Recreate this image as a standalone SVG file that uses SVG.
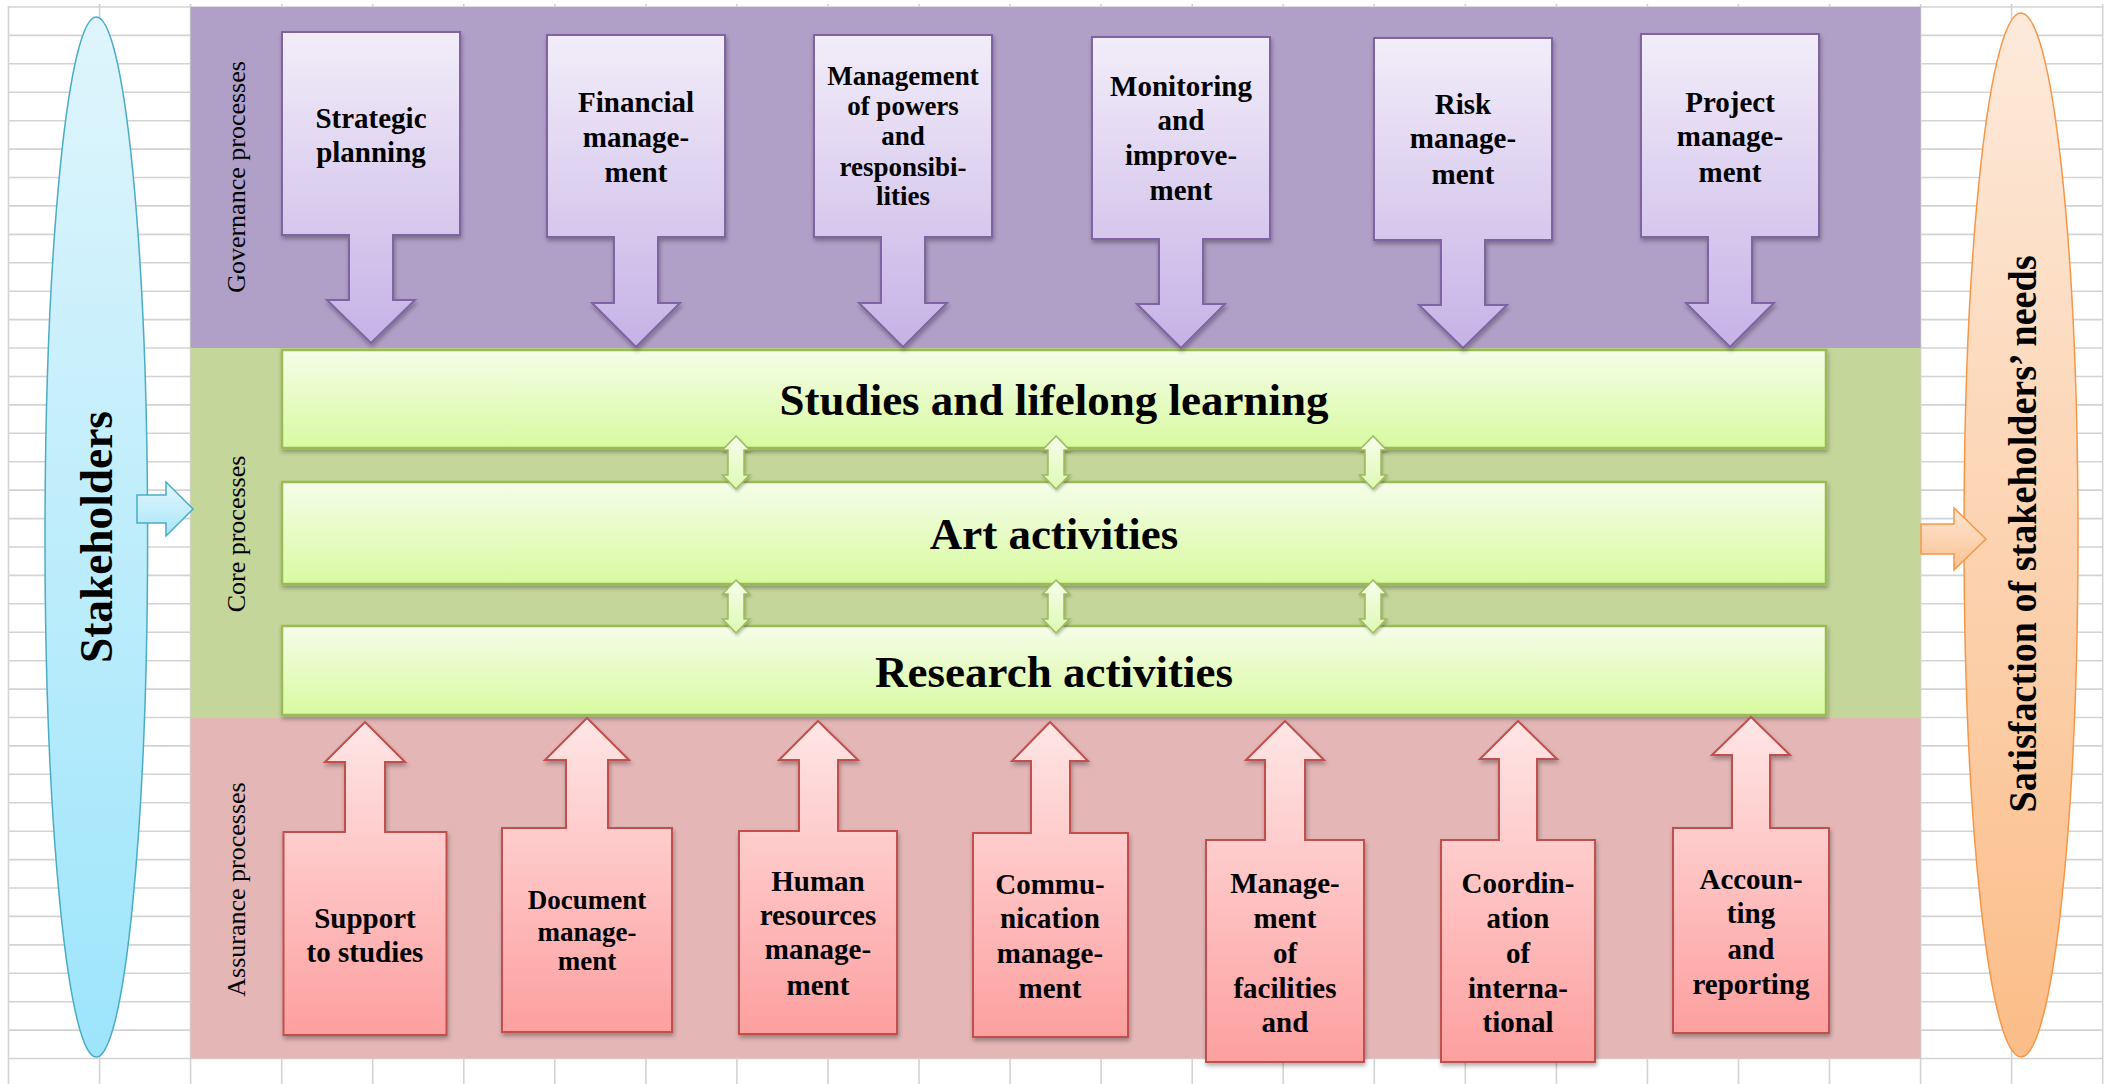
<svg xmlns="http://www.w3.org/2000/svg" width="2111" height="1084" viewBox="0 0 2111 1084">
  <defs>
    <style>
      text { font-family: "Liberation Serif", "Times New Roman", serif; fill: #000; }
      .t29 { font-size: 29px; font-weight: bold; text-anchor: middle; }
      .t27 { font-size: 27px; font-weight: bold; text-anchor: middle; }
      .core { font-size: 45px; font-weight: bold; text-anchor: middle; }
      .lbl { font-size: 26px; text-anchor: middle; }
      .gov { fill: url(#gGov); stroke: #8064A2; stroke-width: 2; filter: url(#sh); }
      .ass { fill: url(#gAss); stroke: #C0504D; stroke-width: 2; filter: url(#sh); }
      .corebox { fill: url(#gCore); stroke: #9BBB59; stroke-width: 2.5; filter: url(#sh); }
      .dbl { fill: url(#gDbl); stroke: #9BBB59; stroke-width: 1.5; filter: url(#sh2); }
      .grid { fill: none; stroke: #d3d3d3; stroke-width: 1.6; }
    </style>
    <linearGradient id="gGov" x1="0" y1="0" x2="0" y2="1">
      <stop offset="0" stop-color="#F2EDF9"/>
      <stop offset="1" stop-color="#C6B2E6"/>
    </linearGradient>
    <linearGradient id="gAss" x1="0" y1="0" x2="0" y2="1">
      <stop offset="0" stop-color="#FFE6E6"/>
      <stop offset="1" stop-color="#FD9F9F"/>
    </linearGradient>
    <linearGradient id="gCore" x1="0" y1="0" x2="0" y2="1">
      <stop offset="0" stop-color="#F5FDE9"/>
      <stop offset="1" stop-color="#D8FAA0"/>
    </linearGradient>
    <linearGradient id="gDbl" x1="0" y1="0" x2="0" y2="1">
      <stop offset="0" stop-color="#F7FEEC"/>
      <stop offset="1" stop-color="#DDF9B2"/>
    </linearGradient>
    <linearGradient id="gBlue" x1="0" y1="0" x2="0" y2="1">
      <stop offset="0" stop-color="#DFF5FC"/>
      <stop offset="1" stop-color="#9DE5FB"/>
    </linearGradient>
    <linearGradient id="gOrange" x1="0" y1="0" x2="0" y2="1">
      <stop offset="0" stop-color="#FDEADB"/>
      <stop offset="1" stop-color="#FBBD88"/>
    </linearGradient>
    <linearGradient id="gBlueArrow" x1="0" y1="0" x2="0" y2="1">
      <stop offset="0" stop-color="#E3F7FD"/>
      <stop offset="1" stop-color="#A8E6F8"/>
    </linearGradient>
    <linearGradient id="gOrangeArrow" x1="0" y1="0" x2="0" y2="1">
      <stop offset="0" stop-color="#FDE6D3"/>
      <stop offset="1" stop-color="#FBC292"/>
    </linearGradient>
    <filter id="sh" x="-10%" y="-10%" width="125%" height="130%">
      <feDropShadow dx="1" dy="3" stdDeviation="2" flood-color="#000" flood-opacity="0.3"/>
    </filter>
    <filter id="sh2" x="-30%" y="-20%" width="160%" height="150%">
      <feDropShadow dx="1" dy="2" stdDeviation="1.5" flood-color="#000" flood-opacity="0.25"/>
    </filter>
  </defs>

  <rect width="2111" height="1084" fill="#fff"/>

  <!-- worksheet grid -->
  <g id="grid">
    <path class="grid" d="M8.5,7H2102.7M8.5,35.4H2102.7M8.5,63.8H2102.7M8.5,92.3H2102.7M8.5,120.7H2102.7M8.5,149.1H2102.7M8.5,177.5H2102.7M8.5,205.9H2102.7M8.5,234.4H2102.7M8.5,262.8H2102.7M8.5,291.2H2102.7M8.5,319.6H2102.7M8.5,348H2102.7M8.5,376.5H2102.7M8.5,404.9H2102.7M8.5,433.3H2102.7M8.5,461.7H2102.7M8.5,490.1H2102.7M8.5,518.6H2102.7M8.5,547H2102.7M8.5,575.4H2102.7M8.5,603.8H2102.7M8.5,632.2H2102.7M8.5,660.7H2102.7M8.5,689.1H2102.7M8.5,717.5H2102.7M8.5,745.9H2102.7M8.5,774.3H2102.7M8.5,802.8H2102.7M8.5,831.2H2102.7M8.5,859.6H2102.7M8.5,888H2102.7M8.5,916.4H2102.7M8.5,944.9H2102.7M8.5,973.3H2102.7M8.5,1001.7H2102.7M8.5,1030.1H2102.7M8.5,1058.5H2102.7"/>
    <path class="grid" d="M8.5,6V1084M99.6,4V1084M190.6,4V1084M281.7,4V1084M372.7,4V1084M463.8,4V1084M554.8,4V1084M645.9,4V1084M736.9,4V1084M828,4V1084M919,4V1084M1010.1,4V1084M1101.1,4V1084M1192.2,4V1084M1283.2,4V1084M1374.3,4V1084M1465.3,4V1084M1556.4,4V1084M1647.4,4V1084M1738.5,4V1084M1829.5,4V1084M1920.6,4V1084M2011.6,4V1084M2102.7,4V1084"/>
  </g>

  <!-- process bands -->
  <g id="bands">
    <rect id="band-governance" x="190.6" y="7" width="1730" height="341" fill="#B09FC7"/>
    <rect id="band-core" x="190.6" y="348" width="1730" height="369.5" fill="#C4D69A"/>
    <rect id="band-assurance" x="190.6" y="717.5" width="1730" height="341" fill="#E4B6B6"/>
    <text class="lbl" transform="translate(245,177) rotate(-90)">Governance processes</text>
    <text class="lbl" transform="translate(245,534) rotate(-90)">Core processes</text>
    <text class="lbl" transform="translate(245,889.5) rotate(-90)">Assurance processes</text>
  </g>

  <!-- input and output ellipses -->
  <g id="stakeholders">
    <ellipse cx="96.3" cy="537" rx="51.3" ry="520" fill="url(#gBlue)" stroke="#4BACC6" stroke-width="1.5"/>
    <text transform="translate(112,537) rotate(-90)" font-size="46" font-weight="bold" text-anchor="middle" textLength="252" lengthAdjust="spacingAndGlyphs">Stakeholders</text>
  </g>
  <g id="satisfaction">
    <ellipse cx="2021" cy="535" rx="57" ry="522" fill="url(#gOrange)" stroke="#F79646" stroke-width="1.5"/>
    <text transform="translate(2036,534) rotate(-90)" font-size="40" font-weight="bold" text-anchor="middle" textLength="557" lengthAdjust="spacingAndGlyphs">Satisfaction of stakeholders’ needs</text>
  </g>

  <!-- core processes -->
  <g id="core-studies">
    <rect class="corebox" x="282" y="350" width="1544" height="98"/>
    <text class="core" x="1054" y="415">Studies and lifelong learning</text>
  </g>
  <g id="core-art">
    <rect class="corebox" x="282" y="482" width="1544" height="102"/>
    <text class="core" x="1054" y="549">Art activities</text>
  </g>
  <g id="core-research">
    <rect class="corebox" x="282" y="626" width="1544" height="89"/>
    <text class="core" x="1054" y="687">Research activities</text>
  </g>

  <!-- governance processes (down-arrow callouts) -->
  <g id="gov-strategic">
    <path class="gov" d="M282,32H460V235H393V300H415L371,343L327,300H349V235H282Z"/>
    <text class="t29" x="371"><tspan x="371" y="128">Strategic</tspan><tspan x="371" y="162">planning</tspan></text>
  </g>
  <g id="gov-financial">
    <path class="gov" d="M547,35H725V237H658V303H680L636,347L592,303H614V237H547Z"/>
    <text class="t29"><tspan x="636" y="112">Financial</tspan><tspan x="636" y="147">manage-</tspan><tspan x="636" y="182">ment</tspan></text>
  </g>
  <g id="gov-powers">
    <path class="gov" d="M814,35H992V237H925V303H947L903,347L859,303H881V237H814Z"/>
    <text class="t27"><tspan x="903" y="85">Management</tspan><tspan x="903" y="115">of powers</tspan><tspan x="903" y="145">and</tspan><tspan x="903" y="176">responsibi-</tspan><tspan x="903" y="205">lities</tspan></text>
  </g>
  <g id="gov-monitoring">
    <path class="gov" d="M1092,37H1270V239H1203V304H1225L1181,348L1137,304H1159V239H1092Z"/>
    <text class="t29"><tspan x="1181" y="96">Monitoring</tspan><tspan x="1181" y="130">and</tspan><tspan x="1181" y="165">improve-</tspan><tspan x="1181" y="200">ment</tspan></text>
  </g>
  <g id="gov-risk">
    <path class="gov" d="M1374,38H1552V240H1485V305H1507L1463,348L1419,305H1441V240H1374Z"/>
    <text class="t29"><tspan x="1463" y="114">Risk</tspan><tspan x="1463" y="148">manage-</tspan><tspan x="1463" y="184">ment</tspan></text>
  </g>
  <g id="gov-project">
    <path class="gov" d="M1641,34H1819V237H1752V303H1774L1730,347L1686,303H1708V237H1641Z"/>
    <text class="t29"><tspan x="1730" y="112">Project</tspan><tspan x="1730" y="146">manage-</tspan><tspan x="1730" y="182">ment</tspan></text>
  </g>

  <!-- assurance processes (up-arrow callouts) -->
  <g id="ass-support">
    <path class="ass" d="M365,722L405,762H385V832H446.5V1035H283.5V832H345V762H325Z"/>
    <text class="t29"><tspan x="365" y="928">Support</tspan><tspan x="365" y="962">to studies</tspan></text>
  </g>
  <g id="ass-document">
    <path class="ass" d="M587,718L629,760H608V828H672V1032H502V828H566V760H545Z"/>
    <text class="t27"><tspan x="587" y="909">Document</tspan><tspan x="587" y="941">manage-</tspan><tspan x="587" y="970">ment</tspan></text>
  </g>
  <g id="ass-human">
    <path class="ass" d="M818,721L858,760H838V831H897V1034H739V831H799V760H779Z"/>
    <text class="t29"><tspan x="818" y="891">Human</tspan><tspan x="818" y="925">resources</tspan><tspan x="818" y="959">manage-</tspan><tspan x="818" y="995">ment</tspan></text>
  </g>
  <g id="ass-communication">
    <path class="ass" d="M1050,722L1088,761H1070V833H1128V1037H973V833H1031V761H1012Z"/>
    <text class="t29"><tspan x="1050" y="894">Commu-</tspan><tspan x="1050" y="928">nication</tspan><tspan x="1050" y="963">manage-</tspan><tspan x="1050" y="998">ment</tspan></text>
  </g>
  <g id="ass-facilities">
    <path class="ass" d="M1285,721L1324,760H1305V840H1364V1062H1206V840H1265V760H1246Z"/>
    <text class="t29"><tspan x="1285" y="893">Manage-</tspan><tspan x="1285" y="928">ment</tspan><tspan x="1285" y="963">of</tspan><tspan x="1285" y="998">facilities</tspan><tspan x="1285" y="1032">and</tspan></text>
  </g>
  <g id="ass-international">
    <path class="ass" d="M1518,721L1557,759H1537V840H1595V1062H1441V840H1499V759H1480Z"/>
    <text class="t29"><tspan x="1518" y="893">Coordin-</tspan><tspan x="1518" y="928">ation</tspan><tspan x="1518" y="963">of</tspan><tspan x="1518" y="998">interna-</tspan><tspan x="1518" y="1032">tional</tspan></text>
  </g>
  <g id="ass-accounting">
    <path class="ass" d="M1751,717L1790,755H1770V828H1829V1033H1673V828H1732V755H1712Z"/>
    <text class="t29"><tspan x="1751" y="889">Accoun-</tspan><tspan x="1751" y="923">ting</tspan><tspan x="1751" y="959">and</tspan><tspan x="1751" y="994">reporting</tspan></text>
  </g>

  <!-- connectors -->
  <g id="connectors">
    <path d="M137,495H166V482L193,509L166,536V523H137Z" fill="url(#gBlueArrow)" stroke="#4BACC6" stroke-width="1.5"/>
    <path d="M1921,524H1954V508L1986,539L1954,570V554H1921Z" fill="url(#gOrangeArrow)" stroke="#F79646" stroke-width="1.5"/>
    <path class="dbl" d="M736,436L749.5,450H744V475H749.5L736,489L722.5,475H728V450H722.5Z"/>
    <path class="dbl" d="M1056,436L1069.5,450H1064V475H1069.5L1056,489L1042.5,475H1048V450H1042.5Z"/>
    <path class="dbl" d="M1373,436L1386.5,450H1381V475H1386.5L1373,489L1359.5,475H1365V450H1359.5Z"/>
    <path class="dbl" d="M736,580L749.5,594H744V619H749.5L736,633L722.5,619H728V594H722.5Z"/>
    <path class="dbl" d="M1056,580L1069.5,594H1064V619H1069.5L1056,633L1042.5,619H1048V594H1042.5Z"/>
    <path class="dbl" d="M1373,580L1386.5,594H1381V619H1386.5L1373,633L1359.5,619H1365V594H1359.5Z"/>
  </g>
</svg>
